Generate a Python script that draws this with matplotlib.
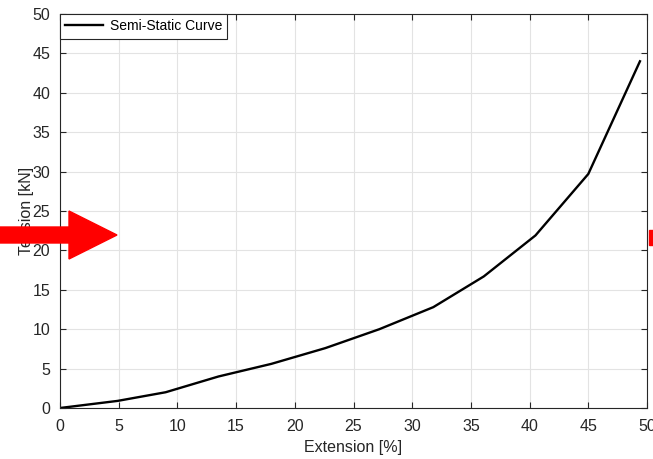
import matplotlib.pyplot as plt
from matplotlib.patches import Polygon, Rectangle

extension = [0, 4.9, 9.0, 13.5, 18.0, 22.6, 27.2, 31.8, 36.1, 40.5, 45.0, 49.4]
tension = [0, 0.9, 2.0, 4.0, 5.6, 7.6, 10.0, 12.8, 16.7, 21.9, 29.7, 44.0]

plt.rcParams['font.family'] = ['Liberation Sans', 'DejaVu Sans']

W, H = 653, 459
fig = plt.figure(figsize=(W / 100, H / 100), dpi=100)
ax = fig.add_axes([60 / W, (H - 408) / H, (647 - 60) / W, (408 - 14) / H])

ax.plot(extension, tension, color='black', lw=1.7, label='Semi-Static Curve')
ax.set_xlim(0, 50)
ax.set_ylim(0, 50)
ax.set_xticks(range(0, 51, 5))
ax.set_yticks(range(0, 51, 5))
ax.grid(True, color='#e3e3e3', lw=0.8)
ax.tick_params(direction='in', top=True, right=True, colors='#262626',
               labelsize=11.5, length=4, width=0.8, labelcolor='#262626')
ax.tick_params(axis='x', pad=8)
ax.tick_params(axis='y', pad=7)
for s in ax.spines.values():
    s.set_color('#262626')
    s.set_linewidth(0.8)
ax.set_xlabel('Extension [%]', fontsize=11.5, color='#262626', labelpad=4)
ax.set_ylabel('Tension [kN]', fontsize=11.5, color='#262626', labelpad=-1)

leg = ax.legend(loc='upper left', fontsize=10, frameon=True, fancybox=False,
                borderaxespad=0, handlelength=2.7, borderpad=0.38,
                handletextpad=0.5, edgecolor='#262626', framealpha=1)
leg.get_frame().set_linewidth(0.8)

# red arrow overlay (figure pixel coords)
def fp(x, y):
    return (x / W, (H - y) / H)

arrow = [fp(0, 227), fp(69, 227), fp(69, 211), fp(117, 235),
         fp(69, 259), fp(69, 243), fp(0, 243)]
fig.patches.append(Polygon(arrow, closed=True, color='red',
                           transform=fig.transFigure, figure=fig))
x0, y0 = fp(649, 245)
fig.patches.append(Rectangle((x0, y0), 4 / W, 15 / H, color='red',
                             transform=fig.transFigure, figure=fig))

fig.savefig('out.png', dpi=100)
